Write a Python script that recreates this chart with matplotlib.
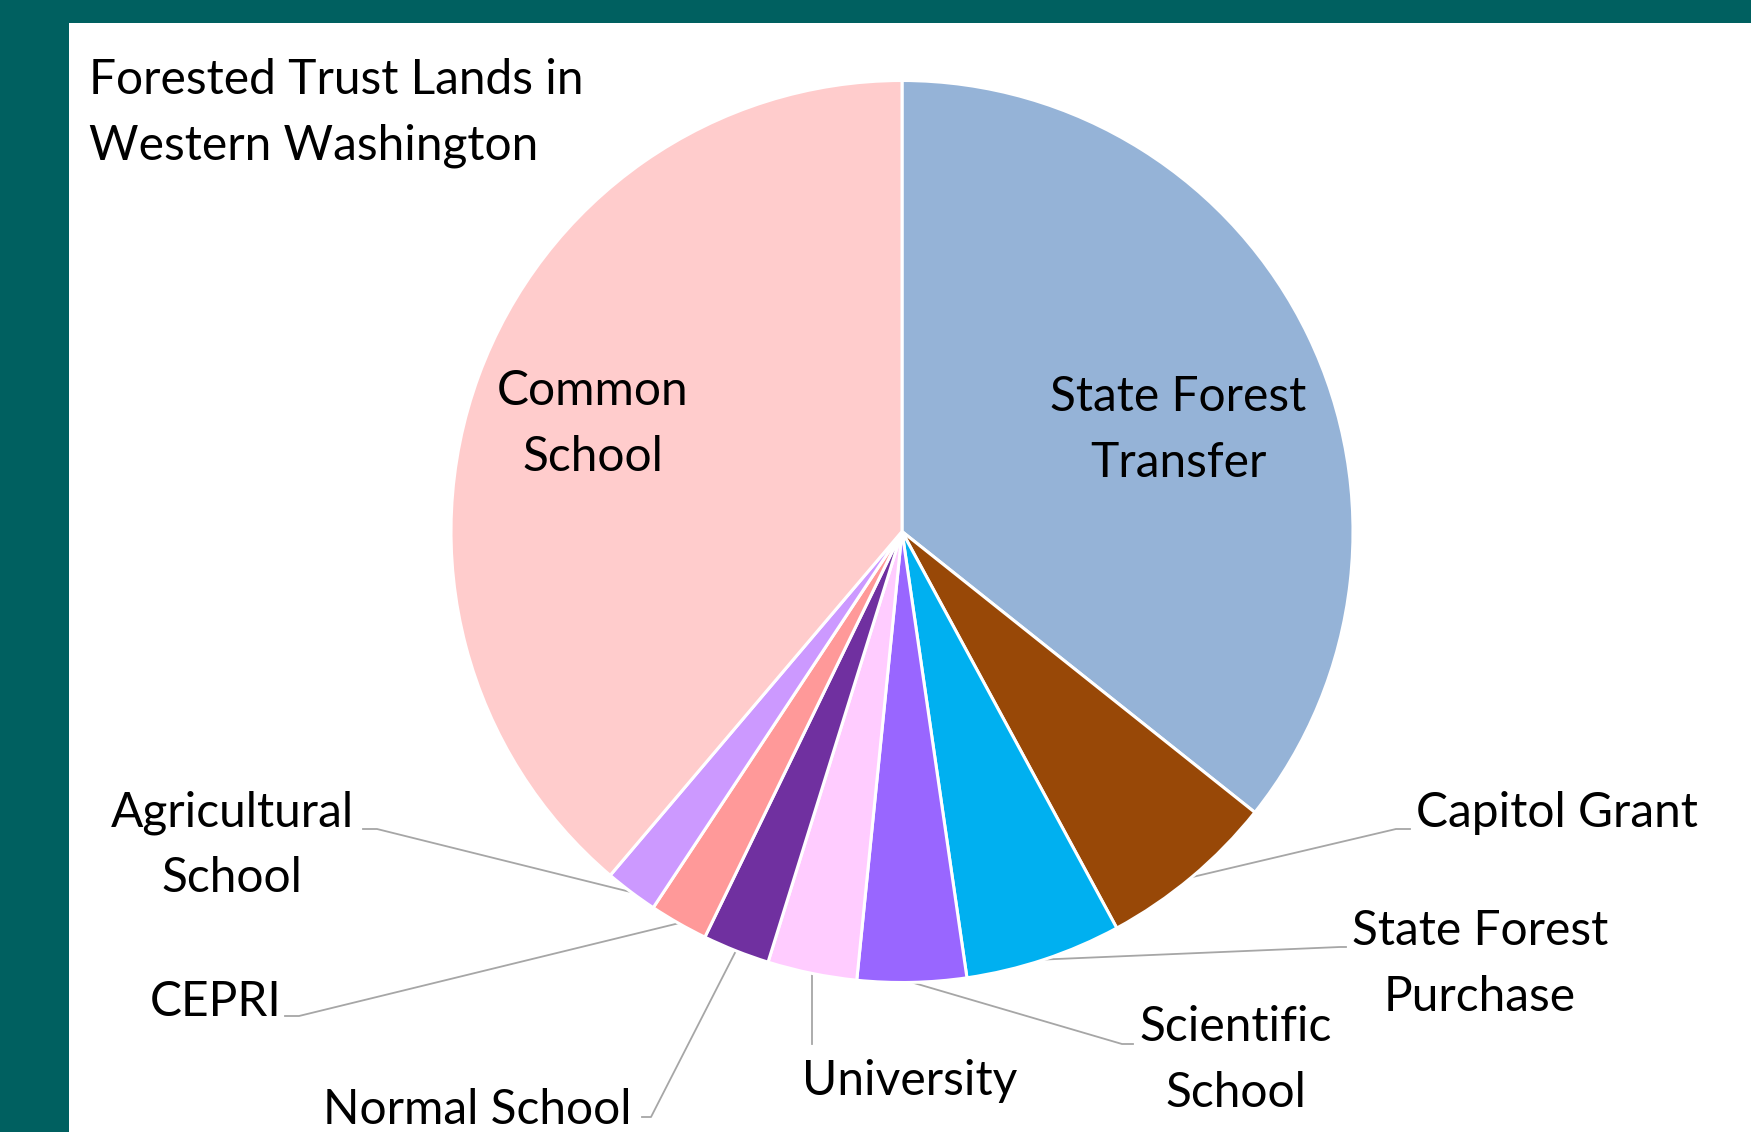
import numpy as np
import matplotlib.pyplot as plt
from matplotlib.patches import Rectangle

plt.rcParams['font.family'] = ['Lato', 'DejaVu Sans']

# trust land shares (percent), clockwise from 12 o'clock
trusts = ["State Forest\nTransfer", "Capitol Grant", "State Forest\nPurchase",
          "Scientific\nSchool", "University", "Normal School", "CEPRI",
          "Agricultural\nSchool", "Common\nSchool"]
shares = [35.7, 6.4, 5.6, 3.9, 3.2, 2.4, 2.1, 1.9, 38.8]
colors = ["#95B3D7", "#984807", "#00B0F0", "#9966FF", "#FFCCFF",
          "#7030A0", "#FF9999", "#CC99FF", "#FFCCCC"]

W, H = 1751, 1132
TEAL = "#006060"
FS = 34.5
LS = 1.59

fig = plt.figure(figsize=(W / 100, H / 100), dpi=100, facecolor=TEAL)
ax = fig.add_axes([0, 0, 1, 1])
ax.set_facecolor(TEAL)

def Y(y):  # pixel-from-top -> data y
    return H - y

cx, cy, R = 902, Y(531.5), 451

ax.add_patch(Rectangle((69, 0), W - 69, H - 23, facecolor="white",
                       edgecolor="none", zorder=0))

wedges, _ = ax.pie(shares, colors=colors, startangle=90, counterclock=False,
                   center=(cx, cy), radius=R, frame=True,
                   wedgeprops=dict(edgecolor="white", linewidth=2.2))
for w in wedges:
    w.set_zorder(2)

ax.set_xlim(0, W)
ax.set_ylim(0, H)
ax.set_aspect("equal")
ax.axis("off")

ax.text(89, Y(113), "Forested Trust Lands in\nWestern Washington", fontsize=FS,
        ha="left", va="center", linespacing=LS)

# inside labels
inside = {0: (1178, 430), 8: (593, 424)}
for i, (x, y) in inside.items():
    ax.text(x, Y(y), trusts[i], fontsize=FS, ha="center", va="center",
            linespacing=LS, zorder=3)

# outside labels: text pos, elbow, end of short horizontal, alignment
outside = {
    1: ((1416, 813), (1396, 829), (1410, 829), "left"),
    2: ((1480, 964), (1340, 947), (1346, 947), "center"),
    3: ((1236, 1060), (1122, 1044), (1133, 1044), "center"),
    4: ((910, 1081), None, None, "center"),
    5: ((631, 1110), (651, 1117), (642, 1117), "right"),
    6: ((216, 1002), (299, 1016), (285, 1016), "center"),
    7: ((232, 845), (377, 829), (363, 829), "center"),
}
for i, (tpos, elbow, end, ha) in outside.items():
    w = wedges[i]
    mid = np.deg2rad((w.theta1 + w.theta2) / 2)
    sx, sy = cx + R * np.cos(mid), cy + R * np.sin(mid)
    if elbow is None:
        xs, ys = [sx, sx], [sy, Y(1044)]
    else:
        xs = [sx, elbow[0], end[0]]
        ys = [sy, Y(elbow[1]), Y(end[1])]
    ax.plot(xs, ys, color="#A6A6A6", lw=1.3, zorder=1)
    ax.text(tpos[0], Y(tpos[1]), trusts[i], fontsize=FS, ha=ha, va="center",
            linespacing=LS, zorder=3)

fig.savefig("out.png", dpi=100, facecolor=TEAL)
